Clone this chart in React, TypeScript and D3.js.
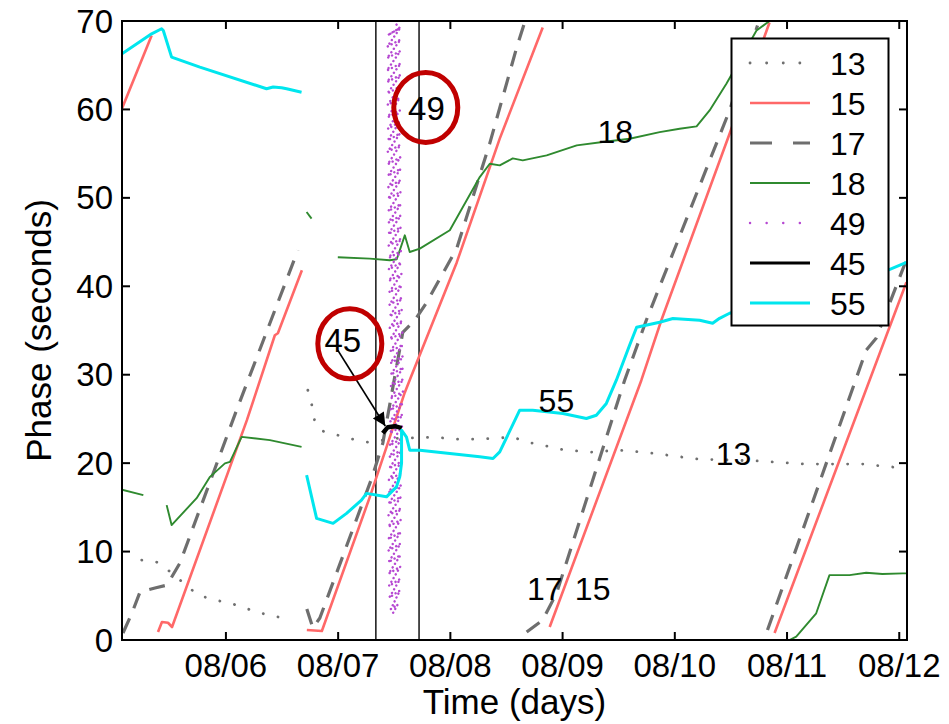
import React from "react";
import * as d3 from "d3";

// [day of August, phase in seconds]
type Pt = [number, number];

const xDomain: [number, number] = [5.074, 12.069];
const yDomain: [number, number] = [0, 70];
const dayTicks = [6, 7, 8, 9, 10, 11, 12];
const phaseTicks = [0, 10, 20, 30, 40, 50, 60, 70];
const windowDays = [7.336, 7.721];

const station13: Pt[][] = [
  [[5.25, 9.04], [5.383, 8.81], [5.484, 7.91], [5.751, 5.08], [5.902, 4.52], [6.036, 4.18], [6.169, 3.62], [6.303, 3.05], [6.436, 2.71], [6.579, 2.18]],
  [[6.73, 28.25], [6.766, 26.55], [6.793, 24.63], [6.864, 23.62], [6.997, 23.16], [7.131, 22.71], [7.264, 22.37], [7.5, 22.8], [7.879, 22.94], [8.012, 22.71], [8.262, 22.71], [8.556, 22.94], [8.689, 22.37], [8.823, 22.03], [8.974, 21.58], [9.241, 21.24], [9.508, 21.47], [9.802, 21.13], [10.07, 20.68], [10.221, 20.45], [10.773, 20.23], [11.04, 20.0], [11.174, 19.89], [11.708, 19.89], [11.842, 19.66], [12.064, 19.44]],
];

const station15: Pt[][] = [
  [[5.074, 60.11], [5.338, 68.36]],
  [[5.395, 0.9], [5.43, 2.03], [5.484, 1.95], [5.52, 1.47], [6.187, 24.86], [6.436, 34.46], [6.463, 34.69], [6.677, 41.81]],
  [[6.721, 1.13], [6.855, 1.02], [7.282, 16.16], [7.594, 28.0], [7.638, 29.4], [8.057, 42.7], [8.44, 56.7], [8.823, 69.27]],
  [[8.885, 1.47], [9.702, 29.38], [9.88, 36.16], [10.488, 57.25], [10.844, 69.83]],
  [[10.889, 0.79], [11.913, 35.37], [12.064, 40.45]],
];

const station17: Pt[][] = [
  [[5.083, 0.79], [5.163, 3.05], [5.234, 5.42], [5.368, 5.88], [5.475, 6.21], [5.59, 8.7], [6.095, 25.99], [6.641, 44.07]],
  [[6.721, 3.5], [6.775, 1.36], [6.837, 2.49], [7.3, 18.31], [7.398, 22.26], [7.576, 34.8], [7.683, 36.16], [7.79, 38.19], [8.057, 44.29], [8.351, 56.16], [8.591, 67.0], [8.662, 69.83]],
  [[8.68, 0.9], [8.823, 2.26], [8.947, 5.31], [9.553, 29.38], [9.746, 36.16], [10.488, 59.89], [10.737, 69.49]],
  [[10.826, 1.13], [11.705, 32.77], [11.794, 34.12], [12.064, 43.0]],
];

const station18: Pt[][] = [
  [[5.074, 17.0], [5.264, 16.38]],
  [[5.472, 15.25], [5.516, 13.0], [5.739, 16.04], [5.858, 18.45], [5.991, 19.97], [6.036, 20.15], [6.14, 22.97], [6.392, 22.6], [6.674, 21.84]],
  [[6.719, 48.4], [6.763, 47.65]],
  [[6.997, 43.28], [7.282, 43.13], [7.46, 42.94], [7.522, 43.05], [7.594, 45.76], [7.638, 43.88], [7.728, 44.26], [7.995, 46.33], [8.262, 52.35], [8.351, 53.86], [8.44, 53.67], [8.556, 54.46], [8.645, 54.24], [8.858, 54.8], [9.126, 55.93], [9.357, 56.31], [9.597, 56.69], [9.865, 57.43], [10.043, 57.82], [10.194, 58.08], [10.31, 59.89], [10.461, 62.94], [10.728, 68.93], [10.844, 70.0]],
  [[11.022, 0], [11.082, 0.37], [11.26, 3.02], [11.378, 7.34], [11.557, 7.34], [11.705, 7.6], [11.85, 7.46], [12.031, 7.54], [12.064, 7.54]],
];

const station49: Pt[][] = [
  [
    [7.52, 69.6], [7.548, 69.2], [7.442, 68.4], [7.552, 69.2], [7.438, 67.1], [7.556, 67.9], [7.436, 65.8], [7.554, 66.6],
    [7.434, 64.4], [7.558, 65.2], [7.436, 63.1], [7.556, 63.9], [7.438, 61.8], [7.552, 62.6], [7.44, 60.5], [7.548, 61.3],
    [7.442, 59.1], [7.55, 59.9], [7.444, 57.8], [7.548, 58.6], [7.442, 56.5], [7.552, 57.3], [7.44, 55.2], [7.554, 56.0],
    [7.442, 53.8], [7.556, 54.6], [7.444, 52.5], [7.558, 53.3], [7.446, 51.2], [7.556, 52.0], [7.444, 49.9], [7.558, 50.7],
    [7.446, 48.5], [7.56, 49.3], [7.448, 47.2], [7.558, 48.0], [7.446, 45.9], [7.56, 46.7], [7.45, 44.6], [7.562, 45.4],
    [7.452, 43.2], [7.56, 44.0], [7.45, 41.9], [7.562, 42.7], [7.452, 40.6], [7.564, 41.4], [7.454, 39.3], [7.566, 40.1],
    [7.456, 37.9], [7.568, 38.7], [7.458, 36.6], [7.57, 37.4], [7.46, 35.3], [7.572, 36.1], [7.462, 34.0], [7.574, 34.8],
    [7.464, 32.6], [7.576, 33.4], [7.466, 31.3], [7.578, 32.1], [7.468, 30.0], [7.58, 30.8], [7.468, 28.7], [7.58, 29.5],
    [7.466, 27.3], [7.578, 28.1], [7.464, 26.0], [7.576, 26.8], [7.462, 24.7], [7.574, 25.5], [7.46, 23.4], [7.572, 24.2],
    [7.458, 22.0], [7.57, 22.8], [7.456, 20.7], [7.568, 21.5], [7.454, 19.4], [7.566, 20.2], [7.452, 18.1], [7.564, 18.9],
    [7.45, 16.7], [7.562, 17.5], [7.448, 15.4], [7.56, 16.2], [7.448, 14.1], [7.56, 14.9], [7.446, 12.8], [7.558, 13.6],
    [7.446, 11.4], [7.558, 12.2], [7.446, 10.1], [7.556, 10.9], [7.448, 8.8], [7.556, 9.6], [7.45, 7.5], [7.554, 8.3],
    [7.452, 6.1], [7.552, 6.9], [7.456, 4.8], [7.55, 5.6], [7.47, 3.5], [7.53, 4.0], [7.478, 2.8],
  ],
];

const station45: Pt[][] = [
  [[7.398, 23.39], [7.443, 24.07], [7.505, 24.18], [7.567, 23.95]],
];

const station55: Pt[][] = [
  [[5.074, 66.29], [5.338, 68.55], [5.427, 69.12], [5.442, 68.93], [5.516, 65.92], [5.768, 64.78], [6.362, 62.34], [6.421, 62.54], [6.496, 62.45], [6.541, 62.34], [6.674, 61.95]],
  [[6.719, 18.64], [6.808, 13.75], [6.955, 13.19], [7.075, 14.32], [7.208, 15.82], [7.253, 16.58], [7.431, 16.19], [7.52, 17.32], [7.549, 18.45], [7.565, 19.97], [7.565, 23.73], [7.609, 22.95], [7.638, 21.47], [7.728, 21.47], [7.995, 21.1], [8.262, 20.71], [8.38, 20.53], [8.44, 21.28], [8.618, 25.99], [8.734, 25.99], [9.003, 25.62], [9.212, 25.05], [9.301, 25.42], [9.39, 26.75], [9.479, 29.38], [9.597, 33.33], [9.66, 35.37], [9.865, 35.93], [9.983, 36.35], [10.221, 36.16], [10.337, 35.82], [10.399, 36.38], [10.488, 36.95], [11.895, 41.81], [12.064, 42.71]],
];

const stationNames = ["13", "15", "17", "18", "49", "45", "55"];
const stationData = [station13, station15, station17, station18, station49, station45, station55];

// Station labels written beside their traces
const traceLabels: { text: string; day: number; phase: number }[] = [
  { text: "18", day: 9.469, phase: 56.16 },
  { text: "55", day: 8.945, phase: 25.76 },
  { text: "13", day: 10.524, phase: 19.77 },
  { text: "17", day: 8.841, phase: 4.52 },
  { text: "15", day: 9.268, phase: 4.52 },
];

// Circled callouts
const callouts: { text: string; day: number; phase: number; cDay: number; cPhase: number }[] = [
  { text: "49", day: 7.787, phase: 58.76, cDay: 7.781, cPhase: 60.23 },
  { text: "45", day: 7.042, phase: 32.58, cDay: 7.104, cPhase: 33.5 },
];
const arrowFrom: Pt = [6.997, 32.77];
const arrowTo: Pt = [7.42, 24.2];

const styles: Record<string, { stroke: string; width: number; dash?: string; cap?: string }> = {
  "13": { stroke: "#707070", width: 2.8, dash: "0.1 15", cap: "round" },
  "15": { stroke: "#ff6868", width: 2.6 },
  "17": { stroke: "#6e6e6e", width: 3.2, dash: "16 11" },
  "18": { stroke: "#2f8a2f", width: 1.9 },
  "49": { stroke: "#b648d2", width: 2.4, dash: "0.1 4.2", cap: "round" },
  "45": { stroke: "#000000", width: 4.5 },
  "55": { stroke: "#00e6ee", width: 3 },
};
const legendDash: Record<string, string | undefined> = {
  "13": "0.1 16.5",
  "17": "22 21",
  "49": "0.1 16.5",
};

const FONT = "'Liberation Sans', Arial, Helvetica, sans-serif";
const base = Date.UTC(2013, 7, 1);
const toDate = (d: number) => new Date(base + (d - 1) * 864e5);

export default function App() {
  const left = 122, right = 907, top = 21, bottom = 640;
  const x = d3.scaleUtc().domain(xDomain.map(toDate)).range([left, right]);
  const y = d3.scaleLinear().domain(yDomain).range([bottom, top]);
  const fmt = d3.utcFormat("%m/%d");
  const line = d3
    .line<Pt>()
    .x((p) => x(toDate(p[0])))
    .y((p) => y(p[1]));
  const px = (d: number) => x(toDate(d));

  const legendX = 731.5, legendY = 38.5, legendW = 157, legendH = 287;
  const rowY = (i: number) => 63 + i * 40;

  return (
    <svg
      width={949}
      height={724}
      style={{ position: "absolute", left: 0, top: 0, background: "#fff" }}
      fontFamily={FONT}
    >
      <defs>
        <clipPath id="plot">
          <rect x={left} y={top} width={right - left} height={bottom - top} />
        </clipPath>
        <marker id="head" viewBox="0 0 10 10" refX={10} refY={5} markerUnits="userSpaceOnUse" markerWidth={18} markerHeight={13} orient="auto">
          <path d="M0,0 L10,5 L0,10 Z" fill="#000" />
        </marker>
      </defs>
      <rect x={0} y={0} width={949} height={724} fill="#fff" />

      <g clipPath="url(#plot)">
        {windowDays.map((d) => (
          <line key={d} x1={px(d)} x2={px(d)} y1={top} y2={bottom} stroke="#222" strokeWidth={1.6} />
        ))}
        {stationData.map((segs, i) => {
          const s = styles[stationNames[i]];
          return (
            <g key={stationNames[i]}>
              {segs.map((seg, j) => (
                <path
                  key={j}
                  d={line(seg) || ""}
                  fill="none"
                  stroke={s.stroke}
                  strokeWidth={s.width}
                  strokeDasharray={s.dash}
                  strokeLinecap={(s.cap as any) || "butt"}
                  strokeLinejoin="round"
                />
              ))}
            </g>
          );
        })}
      </g>

      {/* axes box and ticks */}
      <rect x={left} y={top} width={right - left} height={bottom - top} fill="none" stroke="#000" strokeWidth={2} />
      {dayTicks.map((d) => (
        <g key={d}>
          <line x1={px(d)} x2={px(d)} y1={bottom} y2={bottom - 8} stroke="#000" strokeWidth={2} />
          <line x1={px(d)} x2={px(d)} y1={top} y2={top + 8} stroke="#000" strokeWidth={2} />
          <text x={px(d)} y={677} textAnchor="middle" fontSize={33}>
            {fmt(toDate(d))}
          </text>
        </g>
      ))}
      {phaseTicks.map((p) => (
        <g key={p}>
          <line x1={left} x2={left + 8} y1={y(p)} y2={y(p)} stroke="#000" strokeWidth={2} />
          <line x1={right} x2={right - 8} y1={y(p)} y2={y(p)} stroke="#000" strokeWidth={2} />
          <text x={113} y={y(p) + 11.5} textAnchor="end" fontSize={33}>
            {p}
          </text>
        </g>
      ))}
      <text x={(left + right) / 2} y={714} textAnchor="middle" fontSize={35}>
        Time (days)
      </text>
      <text transform={`translate(51,${(top + bottom) / 2}) rotate(-90)`} textAnchor="middle" fontSize={35}>
        Phase (seconds)
      </text>

      {/* trace labels */}
      {traceLabels.map((l) => (
        <text key={l.text} x={px(l.day)} y={y(l.phase)} textAnchor="middle" fontSize={32}>
          {l.text}
        </text>
      ))}

      {/* legend */}
      <rect x={legendX} y={legendY} width={legendW} height={legendH} fill="#fff" stroke="#000" strokeWidth={2} />
      {stationNames.map((n, i) => {
        const s = styles[n];
        return (
          <g key={n}>
            <line
              x1={750}
              x2={810}
              y1={rowY(i)}
              y2={rowY(i)}
              stroke={s.stroke}
              strokeWidth={n === "45" || n === "55" ? 3 : s.width}
              strokeDasharray={legendDash[n]}
              strokeLinecap={(s.cap as any) || "butt"}
            />
            <text x={830} y={rowY(i) + 11.5} fontSize={32}>
              {n}
            </text>
          </g>
        );
      })}

      {/* callouts */}
      <line
        x1={px(arrowFrom[0])}
        y1={y(arrowFrom[1])}
        x2={px(arrowTo[0])}
        y2={y(arrowTo[1])}
        stroke="#000"
        strokeWidth={1.6}
        markerEnd="url(#head)"
      />
      {callouts.map((c) => (
        <g key={c.text}>
          <text x={px(c.day)} y={y(c.phase)} textAnchor="middle" fontSize={33}>
            {c.text}
          </text>
          <ellipse cx={px(c.cDay)} cy={y(c.cPhase)} rx={32} ry={35} fill="none" stroke="#c00000" strokeWidth={5} />
        </g>
      ))}
    </svg>
  );
}
